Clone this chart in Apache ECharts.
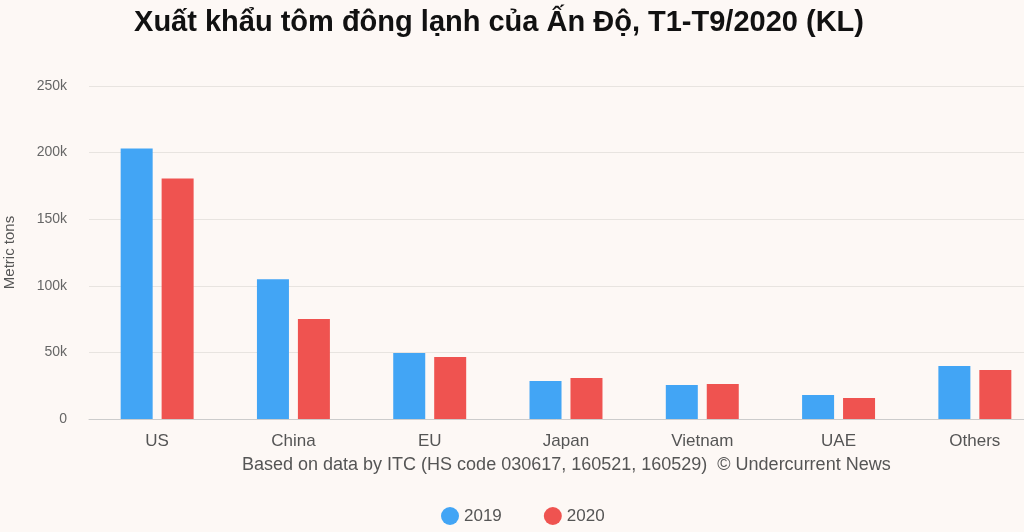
<!DOCTYPE html>
<html><head><meta charset="utf-8">
<script src="https://cdn.jsdelivr.net/npm/echarts@6/dist/echarts.min.js"></script>
<style>html,body{margin:0;padding:0;background:#fdf8f5}#c{width:1024px;height:532px}</style>
</head><body><div id="c"></div>
<script>
const categories = ['US','China','EU','Japan','Vietnam','UAE','Others'];
const v2019 = [203000,105000,49500,28500,25500,18000,39800];
const v2020 = [180500,75000,46500,30800,26300,15800,36800];
const yTicks = ['0','50k','100k','150k','200k','250k'];
const chart = echarts.init(document.getElementById('c'));
chart.setOption({
  backgroundColor:'#fdf8f5',
  title:{text:'Xuất khẩu tôm đông lạnh của Ấn Độ, T1-T9/2020 (KL)',left:494,textAlign:'center',top:3,
    textStyle:{fontFamily:'Liberation Sans',fontWeight:'bold',fontSize:29,color:'#111'}},
  grid:{left:89,width:954,top:86,bottom:113,outerBoundsMode:'none',containLabel:false},
  legend:{bottom:2,left:436,itemGap:42,icon:'circle',itemWidth:18,itemHeight:18,
    textStyle:{fontFamily:'Liberation Sans',fontSize:17,color:'#555'}},
  graphic:[{type:'text',left:242,top:456,style:{text:'Based on data by ITC (HS code 030617, 160521, 160529)  © Undercurrent News',fontFamily:'Liberation Sans',fontSize:18,fill:'#555'}}],
  xAxis:{type:'category',data:categories,axisTick:{show:false},axisLine:{lineStyle:{color:'#ccc'}},
    axisLabel:{fontFamily:'Liberation Sans',fontSize:17,color:'#555',margin:14}},
  yAxis:{type:'value',min:0,max:250000,interval:50000,name:'Metric tons',nameLocation:'middle',nameGap:72,
    nameTextStyle:{fontFamily:'Liberation Sans',fontSize:15,color:'#555'},
    axisLabel:{fontFamily:'Liberation Sans',fontSize:14,color:'#666',margin:22,formatter:(v,i)=>yTicks[i]},
    splitLine:{lineStyle:{color:'#e8e4e0'}}},
  series:[
    {name:'2019',type:'bar',data:v2019,barWidth:32,barGap:'28%',itemStyle:{color:'#42a5f5'}},
    {name:'2020',type:'bar',data:v2020,barWidth:32,itemStyle:{color:'#ef5350'}}
  ]
});
</script></body></html>
